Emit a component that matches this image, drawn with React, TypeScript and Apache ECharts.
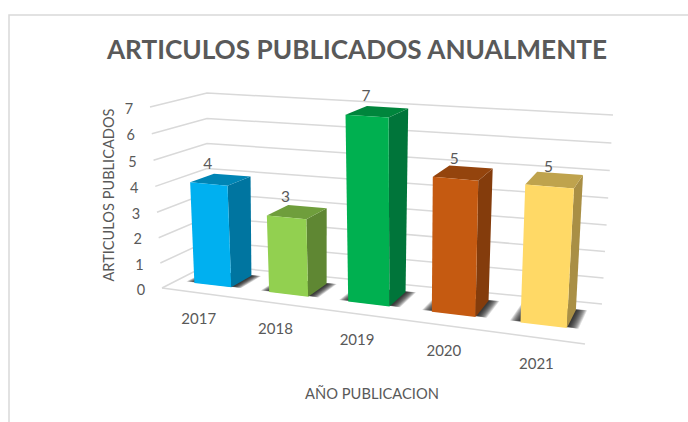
import React, { useEffect, useRef } from "react";
import * as echarts from "echarts";

const titleText = "ARTICULOS PUBLICADOS ANUALMENTE";
const xName = "AÑO PUBLICACION";
const yName = "ARTICULOS PUBLICADOS";
const years = ["2017", "2018", "2019", "2020", "2021"];
const counts = [4, 3, 7, 5, 5];
const ticks = [0, 1, 2, 3, 4, 5, 6, 7];

const frontColors = ["#00B0F0", "#92D050", "#00B050", "#C55A11", "#FFD966"];
const sideColors = ["#0075A0", "#5F8733", "#00753A", "#843C0C", "#A98F45"];
const topColors = ["#0085B5", "#6F9E3C", "#00853C", "#94440D", "#BFA34D"];

const GL = 162, GT = 107, GW = 420, GH = 176;
const FONT = "Lato, Carlito, sans-serif";
const TXT = "#595959";
const GRID = "#d9d9d9";

type P = [number, number];
function homography(p0: P, p1: P, p2: P, p3: P) {
  const dx1 = p1[0] - p2[0], dx2 = p3[0] - p2[0], sx = p0[0] - p1[0] + p2[0] - p3[0];
  const dy1 = p1[1] - p2[1], dy2 = p3[1] - p2[1], sy = p0[1] - p1[1] + p2[1] - p3[1];
  const det = dx1 * dy2 - dx2 * dy1;
  const g = (sx * dy2 - dx2 * sy) / det, h = (dx1 * sy - sx * dy1) / det;
  const a = p1[0] - p0[0] + g * p1[0], b = p3[0] - p0[0] + h * p3[0];
  const d = p1[1] - p0[1] + g * p1[1], e = p3[1] - p0[1] + h * p3[1];
  return (u: number, w: number): P => {
    const q = g * u + h * w + 1;
    return [(a * u + b * w + p0[0]) / q, (d * u + e * w + p0[1]) / q];
  };
}
// floor and ceiling of the 3D box: front-left, front-right, back-right, back-left
const floorH = homography([162, 288], [585, 344], [602, 304], [207, 265]);
const ceilH = homography([150, 107], [597, 141], [613, 115], [207, 93]);
const ALPHA = 1.3;
const warp = (u: number) => (ALPHA * u) / (1 + (ALPHA - 1) * u);
const floor = (u: number, w: number) => floorH(warp(u), w);
const ceil = (u: number, w: number) => ceilH(warp(u), w);
const K = 0.96;
function project(u: number, t: number, w: number): P {
  const a = floor(u, w), b = ceil(u, w);
  const s = (K * t) / (1 + (K - 1) * t);
  return [a[0] + (b[0] - a[0]) * s, a[1] + (b[1] - a[1]) * s];
}

const BAR_W = 0.1;
const W_FRONT = 0.3, W_BACK = 0.77;
const shadowPads = [0.024, 0.022, 0.02, 0.018, 0.016, 0.014, 0.012, 0.01, 0.008, 0.006, 0.004, 0.002];

function toUT(api: any, cat: number, val: number): [number, number] {
  const c = api.coord([cat, val]);
  return [(c[0] - GL) / GW, (GT + GH - c[1]) / GH];
}

function renderGrid(_: any, api: any) {
  const val = api.value(1);
  const [, t] = toUT(api, 0, val);
  const a = project(0, t, 0), b = project(0, t, 1), c = project(1, t, 1);
  const style = { stroke: GRID, lineWidth: 1.5, fill: "none" };
  const children: any[] = [
    { type: "polyline", shape: { points: [a, b, c] }, style },
    {
      type: "text",
      style: {
        x: a[0] - 21, y: a[1] + 1, text: String(val), fill: TXT, font: `14.5px ${FONT}`,
        align: "center", verticalAlign: "middle",
      },
    },
  ];
  if (val === 0) {
    children.push({ type: "line", shape: { x1: a[0], y1: a[1], x2: project(1, 0, 0)[0], y2: project(1, 0, 0)[1] }, style });
  }
  return { type: "group", children };
}

function renderBar(params: any, api: any) {
  const i = params.dataIndex;
  const val = api.value(1);
  const [u, t] = toUT(api, i, val);
  const l = u - BAR_W / 2, r = u + BAR_W / 2;
  const poly = (pts: P[], fill: string) => ({ type: "polygon", shape: { points: pts }, style: { fill } });
  const fbl = project(l, 0, W_FRONT), fbr = project(r, 0, W_FRONT), bbr = project(r, 0, W_BACK);
  const ftl = project(l, t, W_FRONT), ftr = project(r, t, W_FRONT), btr = project(r, t, W_BACK), btl = project(l, t, W_BACK);
  const fc = project(u, t, W_FRONT);
  const lab = floor(u, 0);
  const shadowLayers = shadowPads.map((pad) => ({
    type: "polygon",
    shape: {
      points: [
        floor(l - pad, W_FRONT + 0.04 - pad), floor(r + pad, W_FRONT + 0.04 - pad),
        floor(r + pad, W_BACK + pad), floor(l - pad, W_BACK + pad),
      ],
    },
    style: { fill: "rgba(20,20,20,0.14)" },
  }));
  return {
    type: "group",
    children: [
      ...shadowLayers,
      poly([fbr, bbr, btr, ftr], sideColors[i]),
      poly([ftl, ftr, btr, btl], topColors[i]),
      poly([fbl, fbr, ftr, ftl], frontColors[i]),
      {
        type: "text",
        style: {
          x: fc[0] - 1, y: fc[1] - 21, text: String(val), fill: TXT, font: `15.5px ${FONT}`,
          align: "center", verticalAlign: "middle",
        },
      },
      {
        type: "text",
        style: {
          x: lab[0], y: lab[1] + 25, text: years[i], fill: TXT, font: `15px ${FONT}`,
          align: "center", verticalAlign: "middle",
        },
      },
    ],
  };
}

export default function App() {
  const ref = useRef<HTMLDivElement>(null);
  useEffect(() => {
    const chart = echarts.init(ref.current!, undefined, { renderer: "svg" });
    chart.setOption({
      animation: false,
      backgroundColor: "#ffffff",
      title: {
        text: titleText, left: 352, top: 31, textAlign: "center",
        textStyle: { fontFamily: FONT, fontSize: 26.2, fontWeight: "bold", color: TXT },
      },
      grid: { left: GL, top: GT, width: GW, height: GH },
      xAxis: {
        type: "category", data: years, name: xName, nameLocation: "middle", nameGap: 102,
        nameTextStyle: { fontFamily: FONT, fontSize: 14.7, color: TXT },
        axisLine: { show: false }, axisTick: { show: false }, axisLabel: { show: false }, splitLine: { show: false },
      },
      yAxis: {
        type: "value", min: 0, max: 7, interval: 1, name: yName, nameLocation: "middle", nameGap: 46,
        nameTextStyle: { fontFamily: FONT, fontSize: 14.6, color: TXT },
        axisLine: { show: false }, axisTick: { show: false }, axisLabel: { show: false }, splitLine: { show: false },
      },
      graphic: [
        {
          type: "polyline", silent: true,
          shape: { points: [[9, 422], [9, 15], [688, 15]] },
          style: { stroke: "#d9d9d9", lineWidth: 1.5, fill: "none" },
        },
      ],
      series: [
        {
          type: "custom", name: "grid", clip: false, z: 1, renderItem: renderGrid, silent: true,
          data: ticks.map((v) => [0, v]), encode: { x: 0, y: 1 },
        },
        {
          type: "custom", name: "articulos", clip: false, z: 2, renderItem: renderBar,
          data: counts.map((v, i) => [i, v]), encode: { x: 0, y: 1 },
        },
      ],
    });
    return () => chart.dispose();
  }, []);
  return <div ref={ref} style={{ position: "fixed", left: 0, top: 0, width: 688, height: 422 }} />;
}
